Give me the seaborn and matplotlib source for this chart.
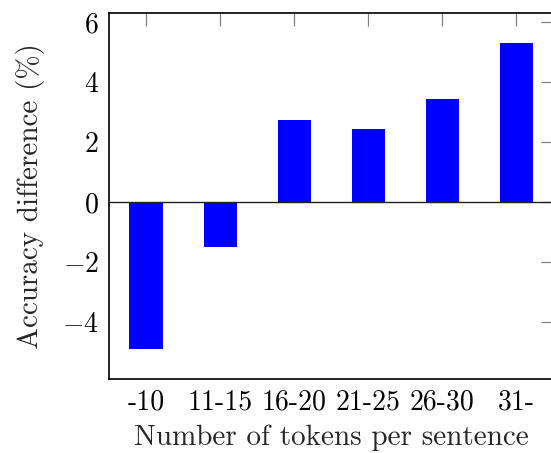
import matplotlib
matplotlib.use("Agg")
import matplotlib.pyplot as plt
import seaborn as sns
import pandas as pd

# Accuracy difference by sentence length bucket
buckets = ["-10", "11-15", "16-20", "21-25", "26-30", "31-"]
acc_diff = [-4.9, -1.5, 2.75, 2.45, 3.45, 5.3]
y_ticks = [-4, -2, 0, 2, 4, 6]

sns.set_theme(style="white")
plt.rcParams["font.family"] = ["cmr10"]
plt.rcParams["mathtext.fontset"] = "cm"
plt.rcParams["axes.formatter.use_mathtext"] = True
plt.rcParams["axes.unicode_minus"] = True

df = pd.DataFrame({"bucket": buckets, "diff": acc_diff})

fig = plt.figure(figsize=(5.51, 4.53), dpi=100)
# the right edge of the axes box runs just past the figure border
ax = fig.add_axes([0.197, 0.1634, 0.8085, 0.8079])

sns.barplot(data=df, x="bucket", y="diff", color="#0000ff", saturation=1,
            width=0.45, edgecolor="none", ax=ax)

ax.axhline(0, color="#202020", lw=1.0, zorder=3)
ax.set_xlim(-0.507, 5.507)
ax.set_ylim(-5.89, 6.31)
ax.set_yticks(y_ticks)
ax.set_yticklabels([f"${v}$" if v >= 0 else f"$-{abs(v)}$" for v in y_ticks])

ax.set_xlabel("Number of tokens per sentence", fontsize=21, labelpad=7)
ax.set_ylabel("Accuracy difference (%)", fontsize=21, labelpad=12)

for s in ax.spines.values():
    s.set_visible(True)
    s.set_color("black")
    s.set_linewidth(1.2)

ax.tick_params(axis="both", which="major", direction="in", length=9.5,
               width=0.9, color="#808080", labelsize=20, labelcolor="black",
               top=True, right=True, pad=7)

fig.savefig("out.png", dpi=100)
